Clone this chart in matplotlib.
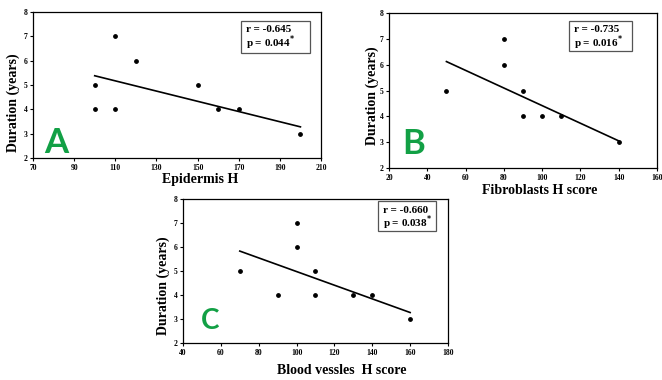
import matplotlib.pyplot as plt

# panel A: epidermis
epi_x = [100, 100, 110, 110, 120, 150, 160, 170, 200]
epi_y = [5, 4, 7, 4, 6, 5, 4, 4, 3]
epi_fit_x = [100, 200]
epi_fit_y = [5.38, 3.28]

# panel B: fibroblasts
fib_x = [50, 80, 80, 90, 90, 100, 110, 140]
fib_y = [5, 7, 6, 5, 4, 4, 4, 3]
fib_fit_x = [50, 140]
fib_fit_y = [6.12, 3.05]

# panel C: blood vessels
bv_x = [70, 90, 100, 100, 110, 110, 130, 140, 160]
bv_y = [5, 4, 7, 6, 5, 4, 4, 4, 3]
bv_fit_x = [70, 160]
bv_fit_y = [5.83, 3.27]

plt.rcParams['font.family'] = ['Liberation Serif', 'DejaVu Serif']
plt.rcParams['font.weight'] = 'bold'

W, H = 662, 380
fig = plt.figure(figsize=(W / 100, H / 100), dpi=100)

def ax_at(l, t, r, b):
    return fig.add_axes([l / W, 1 - b / H, (r - l) / W, (b - t) / H])

def px(x, y):
    return x / W, 1 - y / H

# axes box, x range, label spots, stats box and letter positions (pixels)
panels = [
    (ax_at(33, 12, 321, 158), epi_x, epi_y, epi_fit_x, epi_fit_y, (70, 210, 20),
     'Epidermis H', (200, 180), (13, 103), 'r = -0.645', 'p = 0.044',
     (241, 21, 310, 53), 'A', (56, 153), 25),
    (ax_at(389, 13, 657, 168), fib_x, fib_y, fib_fit_x, fib_fit_y, (20, 160, 20),
     'Fibroblasts H score', (540, 191), (372, 96), 'r = -0.735', 'p = 0.016',
     (569, 21, 632, 51), 'B', (414, 154), 25),
    (ax_at(183, 199, 448, 343), bv_x, bv_y, bv_fit_x, bv_fit_y, (40, 180, 20),
     'Blood vessles  H score', (342, 370), (163, 286), 'r = -0.660', 'p = 0.038',
     (378, 201, 436, 231), 'C', (210, 329), 20),
]

for (ax, x, y, fx, fy, (x0, x1, st), xlab, xl_pos, yl_pos, rtxt, ptxt,
     box, letter, let_pos, let_size) in panels:
    ax.scatter(x, y, s=6, color='black', zorder=3)
    ax.plot(fx, fy, color='black', lw=1.2)
    ax.set_xlim(x0, x1)
    ax.set_ylim(2, 8)
    ax.set_xticks(range(x0, x1 + 1, st))
    ax.set_yticks(range(2, 9))
    ax.tick_params(direction='out', length=2, width=0.8, labelsize=5.5, pad=2)
    for lab in ax.get_xticklabels() + ax.get_yticklabels():
        lab.set_fontweight('bold')
    for s in ax.spines.values():
        s.set_linewidth(0.9)
    fig.text(*px(*xl_pos), xlab, fontsize=10, fontweight='bold', ha='center', va='center')
    fig.text(*px(*yl_pos), 'Duration (years)', fontsize=10, fontweight='bold',
             ha='center', va='center', rotation=90)
    fig.text(*px(*let_pos), letter, fontsize=let_size, fontweight='bold',
             color='#12a045', family='Lato', ha='center', va='baseline')
    bl, bt, br, bb = box
    fig.patches.append(plt.Rectangle(px(bl, bb), (br - bl) / W, (bb - bt) / H,
                                     transform=fig.transFigure, fill=False,
                                     edgecolor='#555555', lw=0.9))
    fig.text(*px(bl + 5, bt + 9), rtxt, fontsize=8, fontweight='bold', va='center')
    fig.text(*px(bl + 5, bt + 22), ptxt + '$^{*}$', fontsize=8, fontweight='bold', va='center')

fig.savefig('out.png', dpi=100)
